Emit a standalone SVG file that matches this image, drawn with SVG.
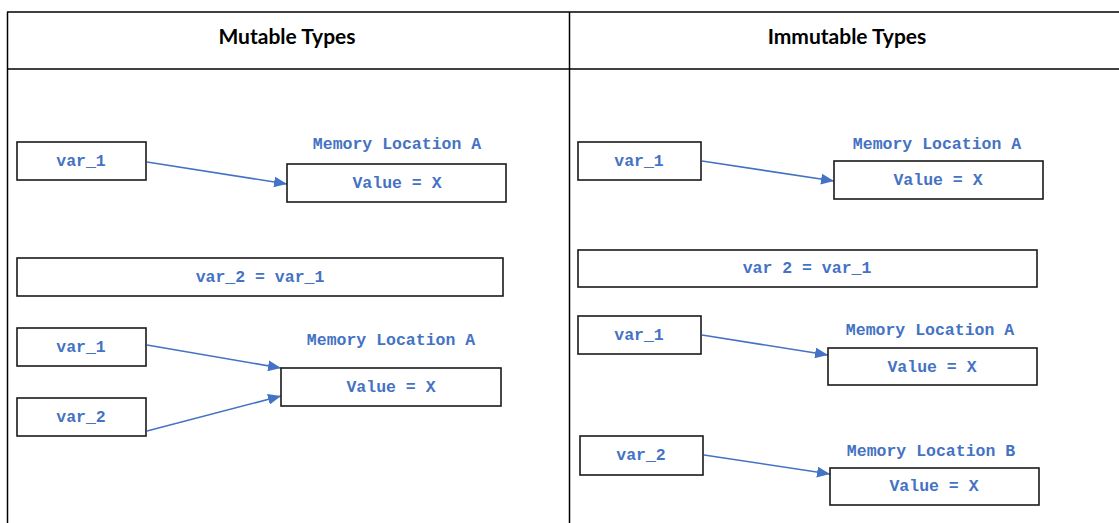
<svg xmlns="http://www.w3.org/2000/svg" width="1119" height="523" viewBox="0 0 1119 523">
<defs>
<style>
.frame{fill:none;stroke:#000;stroke-width:1.5}
.box{fill:#fff;stroke:#1a1a1a;stroke-width:1.6}
.t{font-family:"Liberation Mono","Courier New",monospace;font-weight:bold;font-size:16.5px;fill:#4472C4;text-anchor:middle;dominant-baseline:central}
.h{font-family:Lato,"Open Sans","Liberation Sans",sans-serif;font-weight:bold;font-size:21px;fill:#000;text-anchor:middle;dominant-baseline:central}
.c{fill:none;stroke:#4472C4;stroke-width:1.6;marker-end:url(#ah)}
</style>
<marker id="ah" viewBox="0 0 12 10" refX="12" refY="5" markerWidth="13" markerHeight="11" orient="auto" markerUnits="userSpaceOnUse">
<path d="M0,0 L12,5 L0,10 z" fill="#4472C4"/>
</marker>
</defs>
<rect width="1119" height="523" fill="#fff"/>
<g id="table">
<line class="frame" x1="7" y1="12" x2="1119" y2="12"/>
<line class="frame" x1="7" y1="69" x2="1119" y2="69"/>
<line class="frame" x1="7.5" y1="12" x2="7.5" y2="523"/>
<line class="frame" x1="569.5" y1="12" x2="569.5" y2="523"/>
<text class="h" x="287" y="35">Mutable Types</text>
<text class="h" x="847" y="35">Immutable Types</text>
</g>
<g id="connectors">
<line class="c" x1="147" y1="162" x2="287" y2="184"/>
<line class="c" x1="147" y1="345" x2="281" y2="368"/>
<line class="c" x1="147" y1="431" x2="281" y2="396"/>
<line class="c" x1="702" y1="161" x2="834" y2="181"/>
<line class="c" x1="702" y1="335" x2="828" y2="355"/>
<line class="c" x1="704" y1="455" x2="830" y2="474"/>
</g>
<g id="m_var1"><rect class="box" x="17" y="142" width="129" height="38"/><text class="t" x="81" y="161">var_1</text></g>
<g id="m_locA"><text class="t" x="397" y="144">Memory Location A</text><rect class="box" x="287" y="164" width="219" height="38"/><text class="t" x="397" y="183">Value = X</text></g>
<g id="m_assign"><rect class="box" x="17" y="258" width="486" height="38"/><text class="t" x="260" y="277">var_2 = var_1</text></g>
<g id="m_var1b"><rect class="box" x="17" y="328" width="129" height="38"/><text class="t" x="81" y="347">var_1</text></g>
<g id="m_var2"><rect class="box" x="17" y="398" width="129" height="38"/><text class="t" x="81" y="417">var_2</text></g>
<g id="m_locA2"><text class="t" x="391" y="340">Memory Location A</text><rect class="box" x="281" y="368" width="220" height="38"/><text class="t" x="391" y="387">Value = X</text></g>
<g id="i_var1"><rect class="box" x="578" y="142" width="123" height="38"/><text class="t" x="639" y="161">var_1</text></g>
<g id="i_locA"><text class="t" x="937" y="144">Memory Location A</text><rect class="box" x="834" y="161" width="209" height="38"/><text class="t" x="938" y="180">Value = X</text></g>
<g id="i_assign"><rect class="box" x="578" y="250" width="459" height="37"/><text class="t" x="807" y="268">var 2 = var_1</text></g>
<g id="i_var1b"><rect class="box" x="578" y="316" width="123" height="38"/><text class="t" x="639" y="335">var_1</text></g>
<g id="i_locA2"><text class="t" x="930" y="330">Memory Location A</text><rect class="box" x="828" y="348" width="209" height="37"/><text class="t" x="932" y="367">Value = X</text></g>
<g id="i_var2"><rect class="box" x="580" y="436" width="123" height="39"/><text class="t" x="641" y="455">var_2</text></g>
<g id="i_locB"><text class="t" x="931" y="451">Memory Location B</text><rect class="box" x="830" y="468" width="209" height="37"/><text class="t" x="934" y="486">Value = X</text></g>
</svg>
